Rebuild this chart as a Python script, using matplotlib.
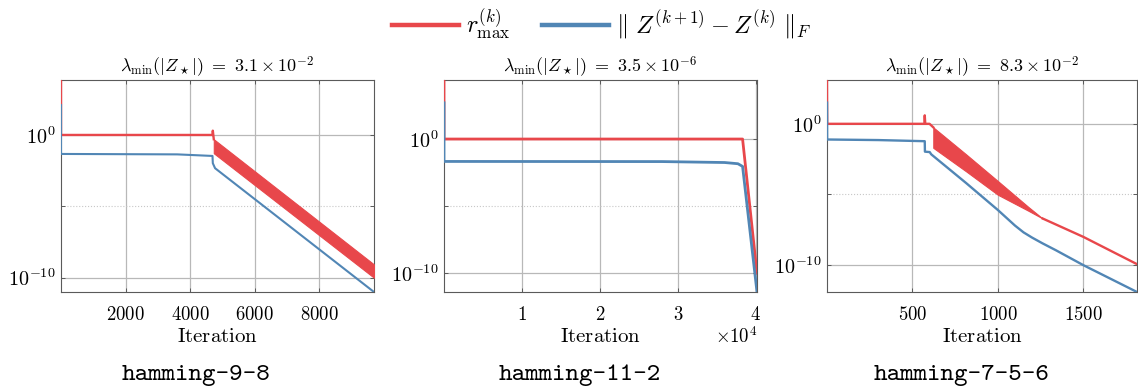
import os
import numpy as np
import matplotlib
matplotlib.use('Agg')
import matplotlib.pyplot as plt
from matplotlib.font_manager import FontProperties
from matplotlib.lines import Line2D

plt.rcParams['mathtext.fontset'] = 'cm'
plt.rcParams['axes.unicode_minus'] = True

RED = '#e8474b'
BLUE = '#5186b5'
GRID = '#b8b8b8'
SPINE = '#5a5a5a'

# ---------------- data (values as log10) ----------------
# hamming-9-8
p1_red_iter = [0, 1, 4690, 4700, 4730]
p1_red_log = [3.85, 0.0, 0.0, 0.3, -0.3]
p1_band_iter = [4730, 9690]
p1_band_hi = [-0.3, -9.07]
p1_band_lo = [-1.28, -10.0]
p1_blue_iter = [0, 1, 3600, 4200, 4690, 4700, 4770, 9690]
p1_blue_log = [2.09, -1.33, -1.36, -1.42, -1.47, -1.98, -2.33, -11.0]

# hamming-11-2
p2_red_iter = [0, 1, 38300, 40150]
p2_red_log = [4.4, 0.0, 0.0, -10.0]
p2_blue_iter = [0, 1, 28000, 36000, 37700, 38300, 40150]
p2_blue_log = [2.7, -1.67, -1.68, -1.75, -1.84, -2.04, -11.4]

# hamming-7-5-6
p3_red_iter = [0, 1, 570, 572, 575, 600, 622]
p3_red_log = [3.1, 0.0, 0.0, 0.6, 0.0, 0.0, -0.25]
p3_band_iter = [622, 815, 1000, 1180, 1262]
p3_band_hi = [-0.25, -2.17, -4.05, -5.9, -6.7]
p3_band_lo = [-1.7, -3.37, -5.02, -6.16, -6.7]
p3_tail_iter = [1262, 1500, 1814]
p3_tail_log = [-6.7, -8.0, -9.93]
p3_blue_iter = [0, 1, 300, 572, 573, 601, 610, 815, 1000, 1100, 1150, 1200, 1260, 1340, 1500, 1814]
p3_blue_log = [1.5, -1.11, -1.15, -1.23, -1.97, -2.0, -2.16, -4.2, -6.1, -7.2, -7.68, -8.05, -8.45, -8.95, -10.0, -11.9]

titles = [r'$\lambda_{\min}(|Z_\star|)\ =\ 3.1 \times 10^{-2}$',
          r'$\lambda_{\min}(|Z_\star|)\ =\ 3.5 \times 10^{-6}$',
          r'$\lambda_{\min}(|Z_\star|)\ =\ 8.3 \times 10^{-2}$']
names = ['hamming-9-8', 'hamming-11-2', 'hamming-7-5-6']
xticks = [[2000, 4000, 6000, 8000], [10000, 20000, 30000, 40000], [500, 1000, 1500]]
xticklabels = [['2000', '4000', '6000', '8000'], ['1', '2', '3', '4'], ['500', '1000', '1500']]
xmax = [9690, 40150, 1814]
ylims_log = [(-11.0, 3.85), (-11.4, 4.4), (-11.9, 3.1)]

W, H = 1138, 389
fig = plt.figure(figsize=(W / 100, H / 100), dpi=100)

ax_px = [(61, 313), (444, 313), (827, 310)]
top_px, bot_px = 80, 292
axes = []
for (l, w) in ax_px:
    ax = fig.add_axes([l / W, (H - bot_px) / H, w / W, (bot_px - top_px) / H])
    axes.append(ax)

def p10(a):
    return 10.0 ** np.asarray(a, dtype=float)

lw = 1.7
# panel 1
ax = axes[0]
ax.plot(p1_red_iter, p10(p1_red_log), color=RED, lw=lw, zorder=3)
ax.fill_between(p1_band_iter, p10(p1_band_lo), p10(p1_band_hi), color=RED, lw=0.8, edgecolor=RED, zorder=3)
ax.plot(p1_blue_iter, p10(p1_blue_log), color=BLUE, lw=1.5, zorder=4)
# panel 2
ax = axes[1]
ax.plot(p2_red_iter, p10(p2_red_log), color=RED, lw=2.0, zorder=3)
ax.plot(p2_blue_iter, p10(p2_blue_log), color=BLUE, lw=2.0, zorder=4)
# panel 3
ax = axes[2]
ax.plot(p3_red_iter, p10(p3_red_log), color=RED, lw=lw, zorder=3)
ax.fill_between(p3_band_iter, p10(p3_band_lo), p10(p3_band_hi), color=RED, lw=0.8, edgecolor=RED, zorder=3)
ax.plot(p3_tail_iter, p10(p3_tail_log), color=RED, lw=lw, zorder=3)
ax.plot(p3_blue_iter, p10(p3_blue_log), color=BLUE, lw=lw, zorder=4)

for i, ax in enumerate(axes):
    ax.set_yscale('log')
    ax.set_xlim(0, xmax[i])
    ax.set_ylim(10 ** ylims_log[i][0], 10 ** ylims_log[i][1])
    ax.set_yticks([1e-10, 1e0])
    ax.set_yticklabels([r'$10^{-10}$', r'$10^{0}$'])
    ax.set_yticks([1e-5], minor=True)
    ax.set_yticklabels([''], minor=True)
    ax.set_xticks(xticks[i])
    ax.set_xticklabels(['$%s$' % s for s in xticklabels[i]])
    ax.tick_params(which='both', direction='in', top=True, right=True,
                   length=3, width=0.7, color=SPINE)
    ax.tick_params(axis='x', pad=9, labelsize=13.5)
    ax.tick_params(axis='y', pad=4, labelsize=14.5)
    ax.grid(True, which='major', color=GRID, lw=0.9, ls='-')
    ax.yaxis.grid(True, which='minor', color='#c8c8c8', lw=0.8, ls=':')
    ax.set_axisbelow(True)
    for s in ax.spines.values():
        s.set_color(SPINE)
        s.set_linewidth(0.8)
    ax.set_title(titles[i], fontsize=13, pad=3)
    ax.set_xlabel(r'$\mathrm{Iteration}$', fontsize=15, labelpad=1.5)

axes[1].text(1.0, -0.21, r'$\times 10^{4}$', transform=axes[1].transAxes,
             ha='right', va='center', fontsize=13.5)

tt_path = os.path.join(matplotlib.get_data_path(), 'fonts', 'ttf', 'cmtt10.ttf')
tt = FontProperties(fname=tt_path, size=18.5)
for xc, name in zip([196, 579.5, 962], names):
    fig.text(xc / W, 1 - 375 / H, name, fontproperties=tt, ha='center', va='center')

handles = [Line2D([], [], color=RED, lw=3.2), Line2D([], [], color=BLUE, lw=3.2)]
labels = [r'$r^{(k)}_{\max}$', r'$\|\ Z^{(k+1)} - Z^{(k)}\ \|_F$']
fig.legend(handles, labels, loc='center', bbox_to_anchor=(602 / W, 1 - 25 / H), ncol=2,
           frameon=False, fontsize=17.5, handlelength=2.75, handletextpad=0.3,
           columnspacing=1.3, borderpad=0, borderaxespad=0)

fig.savefig('out.png', dpi=100)
